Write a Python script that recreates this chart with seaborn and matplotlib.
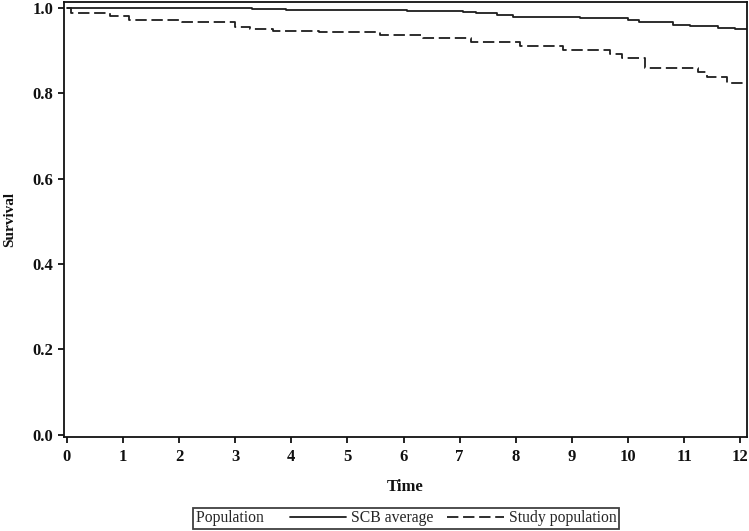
import numpy as np
import pandas as pd
import matplotlib
matplotlib.use("Agg")
import matplotlib.pyplot as plt
from matplotlib.lines import Line2D
import seaborn as sns

# ---- data ----
scb_time = [0.0, 3.3, 3.9, 6.06, 7.06, 7.3, 7.67, 7.95, 9.15, 10.0, 10.2, 10.8, 11.1, 11.6, 11.9, 12.12]
scb_surv = [1.0, 0.998, 0.996, 0.993, 0.990, 0.988, 0.984, 0.980, 0.976, 0.972, 0.968, 0.960, 0.958, 0.954, 0.950, 0.950]

study_time = [0.0, 0.08, 0.77, 1.1, 2.05, 3.0, 3.26, 3.67, 4.5, 5.58, 6.35, 7.2, 8.07, 8.84, 9.68, 9.9,
              10.3, 11.25, 11.4, 11.76, 12.12]
study_surv = [1.0, 0.988, 0.981, 0.972, 0.966, 0.956, 0.950, 0.946, 0.943, 0.937, 0.930, 0.920, 0.912, 0.902,
              0.893, 0.882, 0.860, 0.851, 0.839, 0.824, 0.824]

groups = ["SCB average", "Study population"]
x_ticks = list(range(0, 13))
y_ticks = [0.0, 0.2, 0.4, 0.6, 0.8, 1.0]

df = pd.DataFrame({
    "Time": scb_time + study_time,
    "Survival": scb_surv + study_surv,
    "Population": [groups[0]] * len(scb_time) + [groups[1]] * len(study_time),
})

sns.set_theme(style="ticks")
plt.rcParams["font.family"] = ["Liberation Serif", "DejaVu Serif"]

fig = plt.figure(figsize=(7.49, 5.31), dpi=100)
W, H = 749, 531
ax = fig.add_axes([64 / W, 1 - 437 / H, (747 - 64) / W, (437 - 2) / H])

dash = (6.3, 2.6)
line_color = "#1e1e1e"
sns.lineplot(data=df, x="Time", y="Survival", hue="Population", style="Population",
             palette={g: line_color for g in groups},
             dashes={groups[0]: "", groups[1]: dash},
             drawstyle="steps-post", linewidth=1.3, legend=False, ax=ax, sort=True)

ax.set_xlim(-0.05, 12.12)
ax.set_ylim(-0.005, 1.014)
ax.set_xticks(x_ticks)
ax.set_xticklabels([str(t) for t in x_ticks])
ax.set_yticks(y_ticks)
ax.set_yticklabels([f"{v:.1f}" for v in y_ticks])

for s in ax.spines.values():
    s.set_visible(True)
    s.set_color("#111111")
    s.set_linewidth(1.3)

ax.tick_params(axis="both", direction="out", length=4.5, width=1.3, color="#111111",
               labelsize=12, labelcolor="#111111")
ax.tick_params(axis="y", pad=3)
ax.tick_params(axis="x", pad=4)
for lab in ax.get_xticklabels() + ax.get_yticklabels():
    lab.set_fontweight("bold")

ax.set_xlabel("Time", fontsize=12, fontweight="bold", labelpad=10, color="#111111")
ax.set_ylabel("Survival", fontsize=11, fontweight="bold", labelpad=12, color="#111111")

# legend below the plot, with a "Population" title placed inline on the left
handles = [Line2D([], [], alpha=0),
           Line2D([], [], color=line_color, lw=1.3),
           Line2D([], [], color=line_color, lw=1.3, linestyle=(0, dash))]
labels = ["Population   ", groups[0], groups[1]]
leg = fig.legend(handles, labels, ncol=3, loc="center", bbox_to_anchor=(406 / W, 1 - 518.5 / H),
                 frameon=True, fancybox=False, fontsize=11.3, handlelength=3.6,
                 handletextpad=0.3, columnspacing=0.9, borderpad=0.15, edgecolor="#111111")
leg.get_frame().set_linewidth(1.3)
# remove the empty handle space before the inline title
first_item = leg._legend_handle_box.get_children()[0].get_children()[0]
first_item.get_children()[0].width = 0
first_item.sep = 0

fig.savefig("out.png", dpi=100)
